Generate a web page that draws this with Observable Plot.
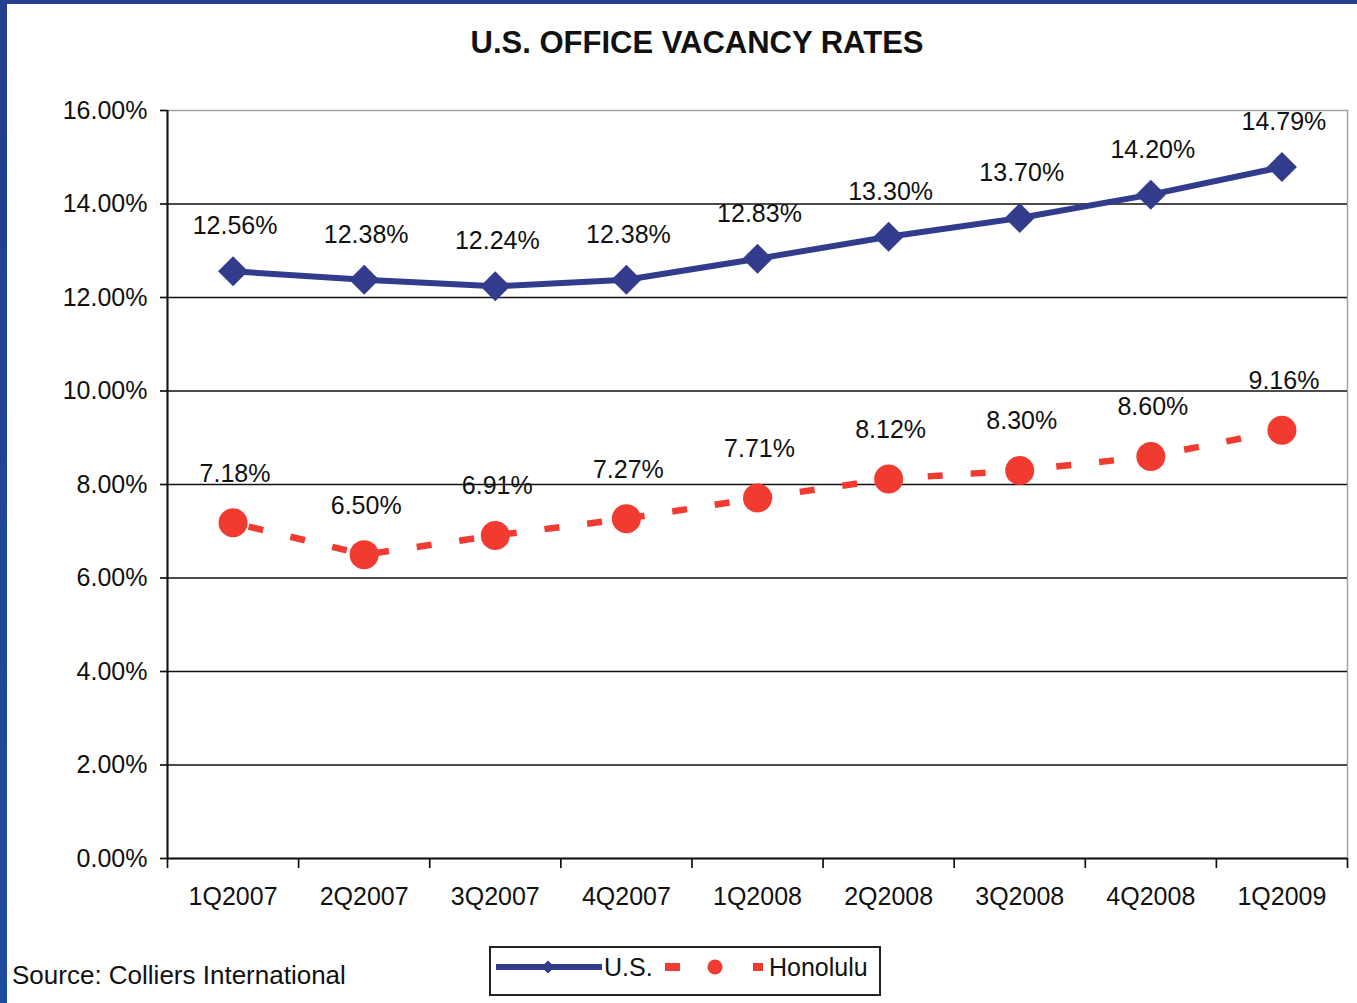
<!DOCTYPE html>
<html>
<head>
<meta charset="utf-8">
<script src="https://cdn.jsdelivr.net/npm/d3@7"></script>
<script src="https://cdn.jsdelivr.net/npm/@observablehq/plot@0.6"></script>
<style>
  html, body { margin: 0; padding: 0; background: #fff; }
  body { width: 1357px; height: 1003px; position: relative; overflow: hidden; font-family: "Liberation Sans", Arial, sans-serif; color: #111; }
  #borderLeft { position: absolute; left: 0; top: 0; width: 7px; height: 1003px; background: linear-gradient(#243d8c, #1f4d9e); z-index: 5; }
  #borderTop { position: absolute; left: 0; top: 0; width: 1357px; height: 4px; background: #263f8e; z-index: 5; }
  #title { position: absolute; top: 27px; left: 697px; transform: translateX(-50%); font-weight: bold; font-size: 31px; line-height: 31px; white-space: nowrap; color: #111; }
  #chart { position: absolute; left: 0; top: 80px; }
  #source { position: absolute; left: 12px; top: 960px; font-size: 26px; line-height: 30px; white-space: nowrap; color: #111; }
  #legend { position: absolute; left: 489px; top: 946px; width: 388px; height: 46px; border: 2px solid #222; background: #fff; }
  #legend svg { position: absolute; left: 0; top: 0; }
</style>
</head>
<body>
<div id="borderLeft"></div>
<div id="borderTop"></div>
<div id="title">U.S. OFFICE VACANCY RATES</div>
<div id="chart"></div>
<div id="source">Source: Colliers International</div>
<div id="legend"></div>
<script>
// ---- Data ----
const categories = ["1Q2007", "2Q2007", "3Q2007", "4Q2007", "1Q2008", "2Q2008", "3Q2008", "4Q2008", "1Q2009"];
const usRates = [12.56, 12.38, 12.24, 12.38, 12.83, 13.30, 13.70, 14.20, 14.79];
const honoluluRates = [7.18, 6.50, 6.91, 7.27, 7.71, 8.12, 8.30, 8.60, 9.16];
const yTicks = [0, 2, 4, 6, 8, 10, 12, 14, 16];
const seriesNames = ["U.S.", "Honolulu"];

const usColor = "#323b8c";
const honColor = "#f23b30";

const usData = categories.map((c, i) => ({i, category: c, value: usRates[i]}));
const honData = categories.map((c, i) => ({i, category: c, value: honoluluRates[i]}));
const boundaries = d3.range(categories.length + 1).map(k => k - 0.5);
const fmt = d => d.toFixed(2) + "%";

const chart = Plot.plot({
  width: 1357,
  height: 840,
  marginLeft: 167,
  marginRight: 10,
  marginTop: 30,
  marginBottom: 62,
  style: {fontFamily: "'Liberation Sans', Arial, sans-serif", fontSize: "25px", color: "#111", background: "transparent"},
  x: {type: "linear", domain: [-0.5, categories.length - 0.5], axis: null},
  y: {domain: [0, 16], axis: null},
  marks: [
    Plot.frame({stroke: "#a3a3a3", strokeWidth: 1.5}),
    Plot.ruleY(yTicks.filter(d => d > 0 && d < 16), {stroke: "#111", strokeWidth: 1.7}),
    Plot.ruleY([0], {stroke: "#111", strokeWidth: 2}),
    Plot.ruleX([boundaries[0]], {y1: 0, y2: 16, stroke: "#111", strokeWidth: 2}),
    Plot.axisY({ticks: yTicks, tickFormat: fmt, tickSize: 7, tickPadding: 13, label: null, stroke: "#111", strokeWidth: 1.7}),
    Plot.axisX({ticks: boundaries, tickFormat: () => "", tickSize: 10, label: null, stroke: "#111", strokeWidth: 1.7}),
    Plot.axisX({ticks: d3.range(categories.length), tickFormat: i => categories[i], tickSize: 0, tickPadding: 29, label: null}),
    // Honolulu
    Plot.line(honData, {x: "i", y: "value", stroke: honColor, strokeWidth: 6.5, strokeDasharray: "15,28", strokeLinecap: "butt", strokeDashoffset: -16}),
    Plot.dot(honData, {x: "i", y: "value", r: 14.5, fill: honColor, stroke: "none"}),
    Plot.text(honData, {x: "i", y: "value", text: d => fmt(d.value), dy: -49, dx: 2, fill: "#111"}),
    // U.S.
    Plot.line(usData, {x: "i", y: "value", stroke: usColor, strokeWidth: 6}),
    Plot.dot(usData, {x: "i", y: "value", symbol: "diamond2", r: 13.5, fill: usColor, stroke: "none"}),
    Plot.text(usData, {x: "i", y: "value", text: d => fmt(d.value), dy: -45, dx: 2, fill: "#111"})
  ]
});
document.getElementById("chart").appendChild(chart);

// ---- Legend ----
const leg = d3.select("#legend").append("svg").attr("width", 388).attr("height", 46)
  .style("font-family", "'Liberation Sans', Arial, sans-serif").style("font-size", "25px");
leg.append("line").attr("x1", 5).attr("x2", 111).attr("y1", 19).attr("y2", 19)
  .attr("stroke", usColor).attr("stroke-width", 6);
leg.append("path").attr("d", d3.symbol(d3.symbolDiamond2, 110)()).attr("transform", "translate(57,19)").attr("fill", usColor);
leg.append("text").attr("x", 113).attr("y", 28).attr("fill", "#111").text(seriesNames[0]);
leg.append("rect").attr("x", 174).attr("y", 15).attr("width", 15).attr("height", 8).attr("fill", honColor);
leg.append("circle").attr("cx", 224).attr("cy", 19).attr("r", 7.5).attr("fill", honColor);
leg.append("rect").attr("x", 262).attr("y", 15).attr("width", 10).attr("height", 8).attr("fill", honColor);
leg.append("text").attr("x", 278).attr("y", 28).attr("fill", "#111").text(seriesNames[1]);
</script>
</body>
</html>
